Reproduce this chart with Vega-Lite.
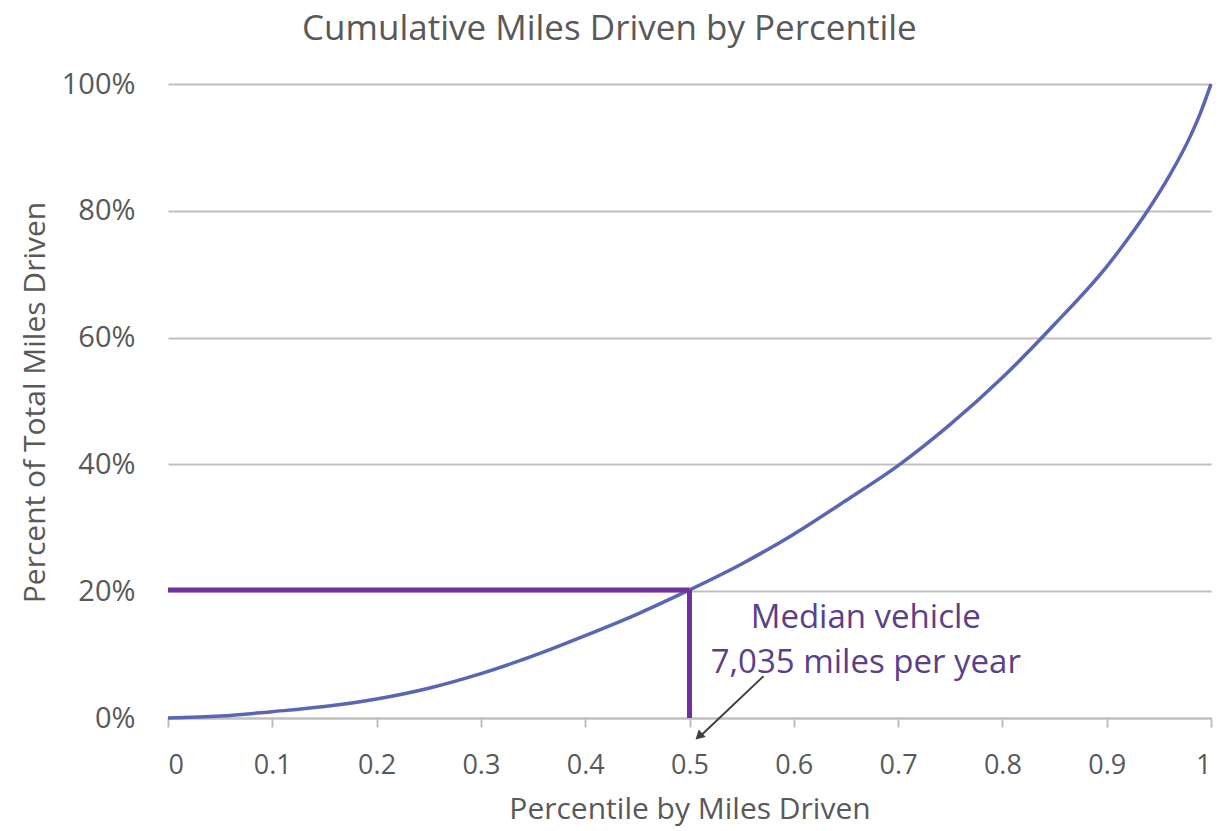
{
  "$schema": "https://vega.github.io/schema/vega-lite/v6.json",
  "width": 1043,
  "height": 634,
  "autosize": "none",
  "padding": {"left": 168, "top": 84, "right": 11, "bottom": 113},
  "background": "white",
  "config": {
    "view": {"stroke": null},
    "font": "Open Sans",
    "axis": {"labelFont": "Open Sans", "titleFont": "Open Sans", "labelColor": "#595959", "titleColor": "#595959", "titleFontWeight": "normal"}
  },
  "title": {
    "text": "Cumulative Miles Driven by Percentile",
    "anchor": "start",
    "frame": "group",
    "dx": 134,
    "offset": 23,
    "fontSize": 35,
    "fontWeight": "normal",
    "color": "#595959",
    "font": "Open Sans"
  },
  "layer": [
    {
      "data": {"values": [
        {"percentile": 0, "share": 0},
        {"percentile": 0.05, "share": 0.003},
        {"percentile": 0.1, "share": 0.010},
        {"percentile": 0.15, "share": 0.018},
        {"percentile": 0.2, "share": 0.030},
        {"percentile": 0.25, "share": 0.047},
        {"percentile": 0.3, "share": 0.070},
        {"percentile": 0.35, "share": 0.098},
        {"percentile": 0.4, "share": 0.130},
        {"percentile": 0.45, "share": 0.164},
        {"percentile": 0.5, "share": 0.202},
        {"percentile": 0.55, "share": 0.243},
        {"percentile": 0.6, "share": 0.290},
        {"percentile": 0.65, "share": 0.343},
        {"percentile": 0.7, "share": 0.398},
        {"percentile": 0.75, "share": 0.463},
        {"percentile": 0.8, "share": 0.537},
        {"percentile": 0.85, "share": 0.621},
        {"percentile": 0.9, "share": 0.712},
        {"percentile": 0.92, "share": 0.755},
        {"percentile": 0.94, "share": 0.802},
        {"percentile": 0.96, "share": 0.855},
        {"percentile": 0.98, "share": 0.917},
        {"percentile": 0.99, "share": 0.955},
        {"percentile": 1.0, "share": 1.0}
      ]},
      "mark": {"type": "line", "interpolate": "monotone", "color": "#5a66b4", "strokeWidth": 3.5, "clip": false},
      "encoding": {
        "x": {
          "field": "percentile", "type": "quantitative",
          "scale": {"domain": [0, 1], "nice": false, "zero": false},
          "axis": {
            "title": "Percentile by Miles Driven",
            "values": [0, 0.1, 0.2, 0.3, 0.4, 0.5, 0.6, 0.7, 0.8, 0.9, 1],
            "format": ".1~f",
            "grid": false,
            "domainColor": "#bfbfbf", "domainWidth": 2,
            "tickColor": "#bfbfbf", "tickWidth": 2, "tickSize": 9,
            "labelFontSize": 27, "labelPadding": 25,
            "titleFontSize": 30, "titlePadding": 16
          }
        },
        "y": {
          "field": "share", "type": "quantitative",
          "scale": {"domain": [0, 1], "nice": false},
          "axis": {
            "title": "Percent of Total Miles Driven",
            "values": [0, 0.2, 0.4, 0.6, 0.8, 1],
            "format": ".0%",
            "domain": false,
            "ticks": false,
            "gridColor": "#bfbfbf", "gridWidth": 2,
            "labelFontSize": 29, "labelPadding": 33,
            "titleFontSize": 30, "titleX": -133, "titleY": 318, "titleBaseline": "middle"
          }
        }
      }
    },
    {
      "data": {"values": [
        {"x": 0, "x2": 0.5, "y": 0.202, "y2": 0.202},
        {"x": 0.5, "x2": 0.5, "y": 0.202, "y2": 0}
      ]},
      "mark": {"type": "rule", "color": "#7030a0", "strokeWidth": 5},
      "encoding": {
        "x": {"field": "x", "type": "quantitative"},
        "x2": {"field": "x2"},
        "y": {"field": "y", "type": "quantitative"},
        "y2": {"field": "y2"}
      }
    },
    {
      "data": {"values": [
        {"x": 0.571, "x2": 0.512, "y": 0.066, "y2": -0.026}
      ]},
      "mark": {"type": "rule", "color": "#404040", "strokeWidth": 2, "clip": false},
      "encoding": {
        "x": {"field": "x", "type": "quantitative"},
        "x2": {"field": "x2"},
        "y": {"field": "y", "type": "quantitative"},
        "y2": {"field": "y2"}
      }
    },
    {
      "data": {"values": [
        {"x": 0.509, "y": -0.029}
      ]},
      "mark": {"type": "point", "shape": "triangle-up", "filled": true, "color": "#404040", "size": 110, "angle": 227, "opacity": 1, "clip": false},
      "encoding": {
        "x": {"field": "x", "type": "quantitative"},
        "y": {"field": "y", "type": "quantitative"}
      }
    },
    {
      "data": {"values": [
        {"x": 0.669, "y": 0.158, "label": "Median vehicle"},
        {"x": 0.669, "y": 0.087, "label": "7,035 miles per year"}
      ]},
      "mark": {"type": "text", "color": "#5a3f8a", "fontSize": 33, "font": "Open Sans", "align": "center", "baseline": "middle"},
      "encoding": {
        "x": {"field": "x", "type": "quantitative"},
        "y": {"field": "y", "type": "quantitative"},
        "text": {"field": "label"}
      }
    }
  ]
}
